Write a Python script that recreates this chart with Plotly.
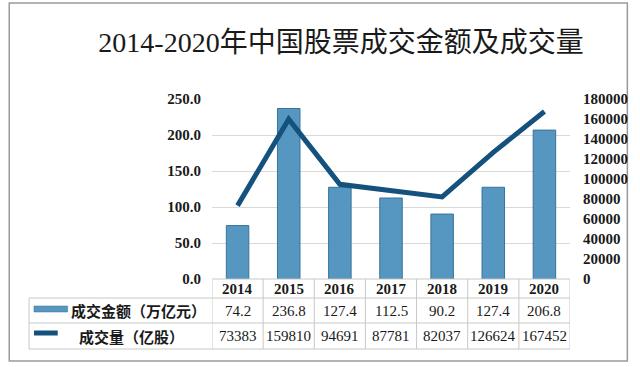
import plotly.graph_objects as go

years = ["2014", "2015", "2016", "2017", "2018", "2019", "2020"]
amount = [74.2, 236.8, 127.4, 112.5, 90.2, 127.4, 206.8]          # 成交金额（万亿元）
volume = [73383, 159810, 94691, 87781, 82037, 126624, 167452]     # 成交量（亿股）
amount_text = ["74.2", "236.8", "127.4", "112.5", "90.2", "127.4", "206.8"]
volume_text = [str(v) for v in volume]
title = "2014-2020年中国股票成交金额及成交量"
name_amount = "成交金额（万亿元）"
name_volume = "成交量（亿股）"

W, H = 640, 367
L, R, T, B = 212, 66, 99, 88
PW, PH = W - L - R, H - T - B

def px(x):
    return (x - L) / PW

def py(y):
    return (H - B - y) / PH

BAR = "#5597C0"
BAR_LINE = "#3A729A"
LINE = "#15517D"
GRID = "#D9D9D9"
TXT = "#1a1a1a"
NUMFONT = "Liberation Serif, Noto Sans CJK SC"
CJK = "Noto Sans CJK SC"

fig = go.Figure()
fig.add_trace(go.Bar(x=years, y=amount, marker=dict(color=BAR, line=dict(color=BAR_LINE, width=1)),
                     width=0.44, yaxis="y", showlegend=False))
fig.add_trace(go.Scatter(x=years, y=volume, mode="lines", line=dict(color=LINE, width=5),
                         yaxis="y2", showlegend=False))

shapes = []
ann = []
# outer frame
shapes.append(dict(type="rect", xref="paper", yref="paper", x0=px(7), x1=px(632), y0=py(361), y1=py(3),
                   line=dict(color="#9A9A9A", width=1.5), fillcolor="rgba(0,0,0,0)", layer="below"))
# table rows
row_y = [279, 298, 323, 349]
shapes.append(dict(type="line", xref="paper", yref="paper", x0=0, x1=1, y0=py(279), y1=py(279),
                   line=dict(color="#C8C8C8", width=1)))
for yy in row_y[1:]:
    shapes.append(dict(type="line", xref="paper", yref="paper", x0=px(27), x1=1, y0=py(yy), y1=py(yy),
                       line=dict(color="#C8C8C8", width=1)))
for i in range(len(years) + 1):
    shapes.append(dict(type="line", xref="x", yref="paper", x0=i - 0.5, x1=i - 0.5, y0=py(349), y1=py(279),
                       line=dict(color="#C8C8C8", width=1)))
shapes.append(dict(type="line", xref="paper", yref="paper", x0=px(27), x1=px(27), y0=py(349), y1=py(298),
                   line=dict(color="#C8C8C8", width=1)))
# legend swatches
shapes.append(dict(type="rect", xref="paper", yref="paper", x0=px(32), x1=px(66), y0=py(312), y1=py(306),
                   fillcolor=BAR, line=dict(color=BAR_LINE, width=0.5)))
shapes.append(dict(type="line", xref="paper", yref="paper", x0=px(32), x1=px(56), y0=py(333), y1=py(333),
                   line=dict(color=LINE, width=5)))

for i, yv in enumerate(years):
    ann.append(dict(x=i, xref="x", y=py(288.5), yref="paper", text="<b>%s</b>" % yv, showarrow=False,
                    xanchor="center", yanchor="middle", font=dict(family=NUMFONT, size=15, color=TXT)))
    ann.append(dict(x=i, xref="x", y=py(310.5), yref="paper", text=amount_text[i], showarrow=False,
                    xanchor="center", yanchor="middle", font=dict(family=NUMFONT, size=15, color=TXT)))
    ann.append(dict(x=i, xref="x", y=py(336), yref="paper", text=volume_text[i], showarrow=False,
                    xanchor="center", yanchor="middle", font=dict(family=NUMFONT, size=15, color=TXT)))
ann.append(dict(x=px(67), xref="paper", y=py(310.5), yref="paper", text="<b>%s</b>" % name_amount,
                showarrow=False, xanchor="left", yanchor="middle", font=dict(family=CJK, size=15, color=TXT)))
ann.append(dict(x=px(75), xref="paper", y=py(336), yref="paper", text="<b>%s</b>" % name_volume,
                showarrow=False, xanchor="left", yanchor="middle", font=dict(family=CJK, size=15, color=TXT)))

fig.update_layout(
    width=W, height=H, margin=dict(l=L, r=R, t=T, b=B),
    paper_bgcolor="white", plot_bgcolor="white",
    title=dict(text=title, x=341 / W, xanchor="center", y=1 - 42 / H, yanchor="middle",
               font=dict(family="Liberation Serif, Noto Sans CJK SC", size=28, color=TXT)),
    xaxis=dict(type="category", range=[-0.5, 6.5], showticklabels=False, showgrid=False,
               zeroline=False, showline=False, ticks=""),
    yaxis=dict(range=[0, 250], dtick=50, tickformat=".1f", showgrid=True, gridcolor=GRID, gridwidth=1,
               zeroline=False, showline=False, ticks="", ticklabelstandoff=10,
               tickfont=dict(family=NUMFONT, size=15, color=TXT, weight="bold")),
    yaxis2=dict(range=[0, 180000], dtick=20000, overlaying="y", side="right", showgrid=False,
                zeroline=False, showline=False, ticks="", ticklabelstandoff=12, tickformat="d",
                tickfont=dict(family=NUMFONT, size=15, color=TXT, weight="bold")),
    bargap=0.56, shapes=shapes, annotations=ann,
)
fig.write_html("out.html", config={"displayModeBar": False},
               post_script="document.body.style.margin='0';")
